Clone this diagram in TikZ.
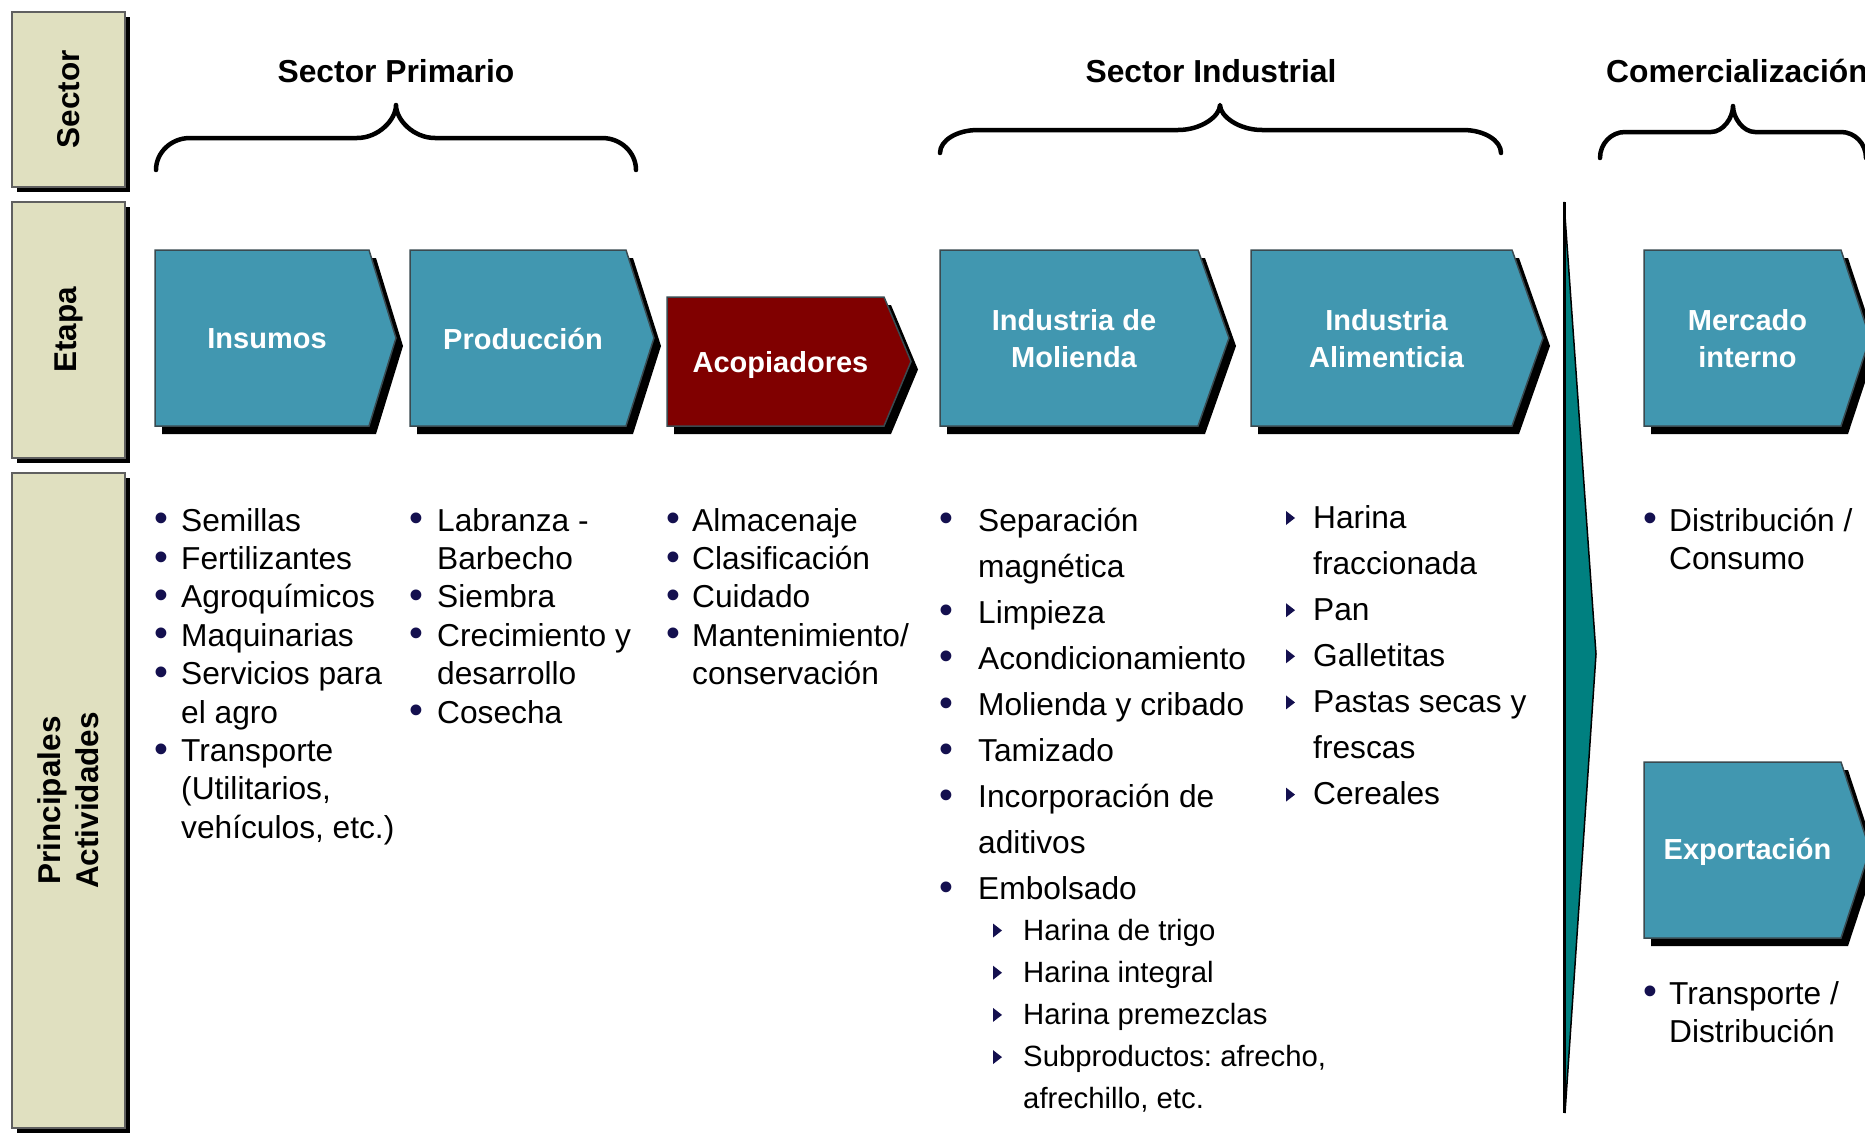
\documentclass[tikz,border=0pt]{standalone}
\usepackage{fontspec}
\usepackage{graphicx}
\setmainfont{Liberation Sans}
\usetikzlibrary{calc}
\frenchspacing
\definecolor{chevblue}{HTML}{4197B0}
\definecolor{acored}{HTML}{800000}
\definecolor{labelbg}{HTML}{E0E0C0}
\definecolor{labeledge}{HTML}{606060}
\definecolor{chevedge}{HTML}{3A4A50}
\definecolor{wedgecol}{HTML}{008080}
\definecolor{bulc}{HTML}{14104F}
\newlength{\bw}
\newcommand{\B}{\makebox[\bw][l]{\textcolor{bulc}{\raisebox{-0.6pt}{\scalebox{1.25}{•}}}}}
\newcommand{\chev}[9]{%
  \pgfmathsetmacro{\cmid}{(#3+#4)/2}%
  \pgfmathsetmacro{\ccx}{(#2+#5)/2+5}%
  \pgfmathsetmacro{\cty}{\cmid+#9}%
  \begin{scope}[shift={(7,8)}]
    \fill[black] (#2,#3) -- (#5,#3) -- (#6,\cmid) -- (#5,#4) -- (#2,#4) -- cycle;
  \end{scope}
  \filldraw[fill=#7, draw=chevedge, line width=1.5] (#2,#3) -- (#5,#3) -- (#6,\cmid) -- (#5,#4) -- (#2,#4) -- cycle;
  \node[chevtext] (#1) at (\ccx,\cty) {#8};
}
\newcommand{\lab}[6]{%
  \fill[black] (#2+5,#3+5) rectangle (#4+5,#5+5);
  \filldraw[fill=labelbg, draw=labeledge, line width=1.5] (#2,#3) rectangle (#4,#5);
  \node[labtext, rotate=90] (#1) at ({(#2+#4)/2},{(#3+#5)/2}) {#6};
}
% brace: x0, xm, x1, yb, yh, yt, rx, ry(end), rxm
\newcommand{\brc}[9]{%
  \pgfmathsetmacro{\ka}{#4-0.5523*(#4-#5)}%
  \pgfmathsetmacro{\kb}{#1+#7*(1-0.5523)}%
  \pgfmathsetmacro{\kc}{#3-#7*(1-0.5523)}%
  \pgfmathsetmacro{\kd}{#2-#9*(1-0.5523)}%
  \pgfmathsetmacro{\ke}{#2+#9*(1-0.5523)}%
  \pgfmathsetmacro{\kf}{#5-0.5523*(#5-#6)}%
  \draw[bracestyle] (#1,#4) .. controls (#1,\ka) and (\kb,#5) .. (#1+#7,#5)
    -- (#2-#9,#5) .. controls (\kd,#5) and (#2,\kf) .. (#2,#6)
    .. controls (#2,\kf) and (\ke,#5) .. (#2+#9,#5)
    -- (#3-#7,#5) .. controls (\kc,#5) and (#3,\ka) .. (#3,#4);
}
\newcommand{\tri}[2]{\fill[bulc] (#1-4,#2-7) -- (#1-4,#2+7) -- (#1+5,#2) -- cycle;}
\tikzset{
  chevtext/.style={text=white, font=\bfseries\fontsize{29}{37}\selectfont, align=center, inner sep=0},
  labtext/.style={text=black, font=\bfseries\fontsize{31.5}{38}\selectfont, align=center, inner sep=0},
  titletext/.style={text=black, font=\bfseries\fontsize{31.8}{38}\selectfont, inner sep=0},
  listtext/.style={text=black, font=\fontsize{31.7}{38.4}\selectfont, inner sep=0, anchor=base west},
  listwide/.style={text=black, font=\fontsize{31.7}{46.1}\selectfont, inner sep=0, anchor=base west},
  listsub/.style={text=black, font=\fontsize{29.3}{42.2}\selectfont, inner sep=0, anchor=base west},
  bracestyle/.style={line width=4.5, line cap=round, line join=round}
}
\begin{document}
\begin{tikzpicture}[x=1pt, y=-1pt]
\useasboundingbox (0,0) rectangle (1865,1135);
\clip (0,0) rectangle (1865,1135);
\fill[white] (0,0) rectangle (1865,1135);

% left label boxes
\lab{lsector}{12}{12}{125}{187}{Sector}
\lab{letapa}{12}{202}{125}{458}{Etapa}
\lab{lact}{12}{473}{125}{1128}{Principales\\Actividades}

% sector titles
\node[titletext] (tprim) at (396,71) {Sector Primario};
\node[titletext] (tind) at (1211,71) {Sector Industrial};
\node[titletext, anchor=west] (tcom) at (1606,71) {Comercialización};

% braces
\brc{156}{396}{636}{170}{138}{105}{34}{32}{39}
\brc{940}{1220}{1501}{153}{130}{105}{38}{23}{42}
\brc{1600}{1733}{1866}{158}{132}{106}{25}{26}{22}

% chevrons
\chev{insumos}{155}{250}{426}{369}{396}{chevblue}{Insumos}{1}
\chev{produccion}{410}{250}{426}{626}{654}{chevblue}{Producción}{1}
\chev{acopiadores}{667}{297}{426}{884}{911}{acored}{Acopiadores}{3}
\chev{molienda}{940}{250}{426}{1198}{1229}{chevblue}{Industria de\\Molienda}{1}
\chev{alimenticia}{1251}{250}{426}{1512}{1543}{chevblue}{Industria\\Alimenticia}{1}
\chev{mercado}{1644}{250}{426}{1841}{1870}{chevblue}{Mercado\\interno}{1}
\chev{exportacion}{1644}{762}{938}{1841}{1870}{chevblue}{Exportación}{2}

% teal wedge
\filldraw[fill=wedgecol, draw=black, line width=1.5, line join=miter] (1564,202) -- (1596,654) -- (1565,1113) -- cycle;
\draw[line width=3] (1564,202) -- (1564,1113);

% lists
\node[listtext] (l1) at (154,531) {\setlength{\bw}{27pt}\begin{tabular}[t]{@{}l@{}l@{}}
\B & Semillas\\ \B & Fertilizantes\\ \B & Agroquímicos\\ \B & Maquinarias\\
\B & Servicios para\\ & el agro\\ \B & Transporte\\ & (Utilitarios,\\ & vehículos, etc.)\end{tabular}};
\node[listtext] (l2) at (409,531) {\setlength{\bw}{28pt}\begin{tabular}[t]{@{}l@{}l@{}}
\B & Labranza -\\ & Barbecho\\ \B & Siembra\\ \B & Crecimiento y\\ & desarrollo\\ \B & Cosecha\end{tabular}};
\node[listtext] (l3) at (666,531) {\setlength{\bw}{26pt}\begin{tabular}[t]{@{}l@{}l@{}}
\B & Almacenaje\\ \B & Clasificación\\ \B & Cuidado\\ \B & Mantenimiento/\\ & conservación\end{tabular}};
\node[listwide] (l4) at (939,531) {\setlength{\bw}{39pt}\begin{tabular}[t]{@{}l@{}l@{}}
\B & Separación\\ & magnética\\ \B & Limpieza\\ \B & Acondicionamiento\\ \B & Molienda y cribado\\
\B & Tamizado\\ \B & Incorporación de\\ & aditivos\\ \B & Embolsado\end{tabular}};
\node[listsub] (l4s) at (1023,940) {\begin{tabular}[t]{@{}l@{}}
Harina de trigo\\ Harina integral\\ Harina premezclas\\ Subproductos: afrecho,\\ afrechillo, etc.\end{tabular}};
\node[listwide] (l5) at (1313,528) {\begin{tabular}[t]{@{}l@{}}
Harina\\ fraccionada\\ Pan\\ Galletitas\\ Pastas secas y\\ frescas\\ Cereales\end{tabular}};
\node[listtext] (l6) at (1643,531) {\setlength{\bw}{26pt}\begin{tabular}[t]{@{}l@{}l@{}}
\B & Distribución /\\ & Consumo\end{tabular}};
\node[listtext] (l7) at (1643,1004) {\setlength{\bw}{26pt}\begin{tabular}[t]{@{}l@{}l@{}}
\B & Transporte /\\ & Distribución\end{tabular}};

% triangle markers
\foreach \k in {0,2,3,4,6} {\pgfmathsetmacro{\ty}{528+46.1*\k-10}\tri{1290}{\ty}}
\foreach \k in {0,1,2,3} {\pgfmathsetmacro{\ty}{940+42.2*\k-9.5}\tri{997}{\ty}}
\end{tikzpicture}
\end{document}
